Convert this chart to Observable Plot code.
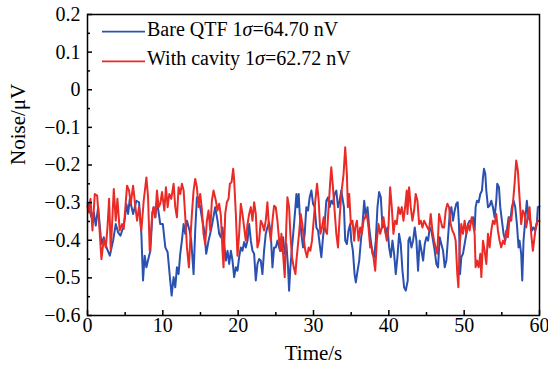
<!DOCTYPE html>
<html><head><meta charset="utf-8">
<style>body{margin:0;background:#fff}</style>
<script src="https://cdn.jsdelivr.net/npm/d3@7"></script>
<script src="https://cdn.jsdelivr.net/npm/@observablehq/plot@0.6"></script>
</head><body><div id="chart"></div>
<script>
// [time (s), noise (µV)]
const bareQTF = [
[0,-0.30],[0.22,-0.317],[0.53,-0.339],[0.84,-0.326],[1.10,-0.361],[1.41,-0.312],[1.85,-0.41],[2.16,-0.392],[2.52,-0.419],[2.96,-0.441],[3.40,-0.401],[3.75,-0.357],[4.06,-0.379],[4.37,-0.388],[4.73,-0.366],[4.95,-0.343],[5.17,-0.304],[5.39,-0.33],[5.61,-0.29],[6.05,-0.33],[6.49,-0.295],[6.84,-0.299],[7.15,-0.383],[7.37,-0.507],[7.59,-0.441],[7.82,-0.472],[8.13,-0.445],[8.35,-0.428],[8.61,-0.33],
[8.78,-0.312],[9.0,-0.339],[9.22,-0.295],[9.66,-0.357],[10.0,-0.357],[10.33,-0.419],[10.64,-0.432],[10.9,-0.49],[11.17,-0.547],[11.43,-0.498],[11.65,-0.525],[11.87,-0.472],[12.09,-0.49],[12.31,-0.436],[12.53,-0.401],[12.76,-0.357],[12.98,-0.383],[13.2,-0.348],[13.55,-0.374],[13.77,-0.401],[14.08,-0.49],[14.3,-0.374],[14.52,-0.286],[14.96,-0.312],[15.18,-0.339],[15.49,-0.374],[15.76,-0.436],[16.07,-0.401],[16.29,-0.383],[16.6,-0.352],[16.95,-0.312],
[17.26,-0.348],[17.48,-0.383],[17.7,-0.392],[17.92,-0.366],[18.37,-0.454],[18.59,-0.428],[18.81,-0.463],[19.03,-0.428],[19.25,-0.454],[19.47,-0.498],[19.69,-0.472],[19.91,-0.481],[20.13,-0.445],[20.35,-0.419],[20.57,-0.428],[20.79,-0.405],[21.01,-0.419],[21.24,-0.401],[21.46,-0.357],[21.68,-0.401],[21.9,-0.428],[22.12,-0.436],[22.34,-0.507],[22.56,-0.463],[22.78,-0.45],[23.0,-0.454],[23.22,-0.49],[23.44,-0.428],[23.66,-0.383],[23.88,-0.366],[24.1,-0.352],[24.33,-0.383],[24.55,-0.472],[24.77,-0.419],[24.99,-0.419],[25.21,-0.401],[25.56,-0.428],
[25.74,-0.428],[25.96,-0.392],[26.18,-0.436],[26.4,-0.41],[26.62,-0.472],[26.76,-0.534],[26.93,-0.472],[27.15,-0.419],[27.38,-0.366],[27.6,-0.312],[27.73,-0.277],[27.86,-0.312],[28.04,-0.277],[28.17,-0.33],[28.39,-0.383],[28.61,-0.419],[28.83,-0.383],[29.05,-0.312],[29.27,-0.321],[29.49,-0.286],[29.72,-0.268],[29.94,-0.303],[30.16,-0.312],[30.38,-0.366],[30.6,-0.374],[30.82,-0.41],[31.04,-0.445],[31.26,-0.392],[31.48,-0.357],[31.7,-0.295],[31.92,-0.286],[32.14,-0.312],[32.36,-0.295],[32.58,-0.303],[32.8,-0.277],[33.03,-0.268],[33.25,-0.312],[33.47,-0.295],[33.69,-0.268],[34.04,-0.312],
[34.21,-0.401],[34.43,-0.41],[34.65,-0.374],[34.87,-0.357],[35.01,-0.401],[35.23,-0.428],[35.45,-0.49],[35.62,-0.512],[35.85,-0.481],[36.07,-0.454],[36.29,-0.401],[36.51,-0.357],[36.73,-0.295],[36.95,-0.339],[37.17,-0.312],[37.39,-0.366],[37.61,-0.401],[37.83,-0.436],[38.05,-0.445],[38.27,-0.401],[38.49,-0.312],[38.71,-0.272],[38.94,-0.286],[39.16,-0.366],[39.38,-0.357],[39.6,-0.383],[39.82,-0.366],[40.04,-0.419],[40.26,-0.445],[40.48,-0.401],[40.7,-0.436],[40.92,-0.49],[41.14,-0.445],[41.36,-0.383],[41.58,-0.41],[41.81,-0.481],[42.03,-0.525],[42.25,-0.534],[42.51,-0.507],
[42.6,-0.401],[42.78,-0.392],[43.0,-0.419],[43.22,-0.401],[43.44,-0.366],[43.66,-0.401],[43.88,-0.481],[44.1,-0.401],[44.33,-0.428],[44.55,-0.454],[44.77,-0.41],[44.99,-0.392],[45.21,-0.401],[45.43,-0.366],[45.65,-0.374],[45.87,-0.401],[46.09,-0.428],[46.31,-0.463],[46.53,-0.472],[46.75,-0.392],[46.97,-0.41],[47.2,-0.428],[47.42,-0.472],[47.64,-0.454],[47.86,-0.392],[48.08,-0.33],[48.3,-0.312],[48.52,-0.348],[48.74,-0.321],[48.96,-0.303],[49.14,-0.299],[49.31,-0.357],[49.45,-0.49],[49.62,-0.445],[49.84,-0.436],[50.06,-0.41],[50.29,-0.383],[50.51,-0.357],[50.73,-0.348],[50.99,-0.348],
[51.17,-0.339],[51.39,-0.374],[51.52,-0.312],[51.7,-0.295],[51.92,-0.299],[52.14,-0.277],[52.36,-0.268],[52.5,-0.233],[52.63,-0.21],[52.81,-0.224],[52.94,-0.268],[53.16,-0.312],[53.38,-0.308],[53.6,-0.295],[53.82,-0.312],[54.04,-0.339],[54.26,-0.295],[54.39,-0.25],[54.62,-0.259],[54.79,-0.312],[55.01,-0.348],[55.23,-0.383],[55.45,-0.401],[55.67,-0.374],[55.9,-0.339],[56.12,-0.348],[56.34,-0.312],[56.56,-0.295],[56.78,-0.312],[57.0,-0.357],[57.22,-0.419],[57.35,-0.401],[57.57,-0.436],[57.71,-0.507],[57.88,-0.401],[58.1,-0.348],[58.32,-0.295],[58.54,-0.339],[58.77,-0.348],[58.99,-0.374],[59.21,-0.366],[59.43,-0.374],[59.65,-0.357],[59.78,-0.312],[60,-0.31]
];
const withCavity = [
[0,-0.308],[0.09,-0.326],[0.40,-0.29],[0.66,-0.374],[0.97,-0.277],[1.28,-0.281],[1.55,-0.357],[1.85,-0.45],[2.16,-0.397],[2.43,-0.419],[2.65,-0.366],[2.87,-0.29],[3.09,-0.428],[3.49,-0.264],[3.75,-0.348],[3.97,-0.29],[4.28,-0.374],[4.59,-0.357],[4.81,-0.37],[5.03,-0.312],[5.25,-0.255],[5.52,-0.268],[5.74,-0.303],[6.05,-0.255],[6.36,-0.312],[6.58,-0.348],[6.84,-0.312],[7.15,-0.374],[7.46,-0.295],[7.82,-0.233],[8.04,-0.286],[8.26,-0.428],[8.48,-0.366],[8.61,-0.326],
[8.78,-0.312],[9.0,-0.339],[9.22,-0.268],[9.44,-0.312],[9.66,-0.303],[9.89,-0.272],[10.2,-0.321],[10.41,-0.259],[10.64,-0.312],[10.86,-0.277],[11.12,-0.29],[11.43,-0.25],[11.65,-0.312],[11.87,-0.339],[12.09,-0.259],[12.31,-0.277],[12.53,-0.25],[12.76,-0.268],[12.98,-0.339],[13.2,-0.419],[13.46,-0.472],[13.64,-0.401],[13.86,-0.33],[14.08,-0.268],[14.3,-0.237],[14.52,-0.259],[14.74,-0.312],[14.96,-0.277],[15.18,-0.317],[15.4,-0.383],[15.62,-0.41],[15.85,-0.348],[16.07,-0.321],[16.29,-0.374],[16.51,-0.295],[16.73,-0.268],
[17.04,-0.295],[17.26,-0.321],[17.48,-0.303],[17.7,-0.334],[17.92,-0.428],[18.06,-0.472],[18.28,-0.33],[18.5,-0.299],[18.72,-0.29],[18.9,-0.25],[19.12,-0.246],[19.34,-0.21],[19.47,-0.241],[19.69,-0.33],[19.91,-0.441],[20.13,-0.383],[20.35,-0.303],[20.57,-0.33],[20.79,-0.366],[21.01,-0.401],[21.24,-0.357],[21.46,-0.33],[21.68,-0.312],[21.9,-0.348],[22.12,-0.299],[22.34,-0.33],[22.56,-0.419],[22.78,-0.401],[23.0,-0.348],[23.22,-0.357],[23.44,-0.374],[23.66,-0.348],[23.88,-0.299],[24.1,-0.366],[24.33,-0.401],[24.55,-0.348],[24.77,-0.308],[24.99,-0.312],[25.21,-0.348],[25.56,-0.428],
[25.74,-0.383],[25.96,-0.436],[26.18,-0.498],[26.4,-0.357],[26.54,-0.286],[26.76,-0.312],[26.93,-0.383],[27.15,-0.445],[27.38,-0.472],[27.6,-0.49],[27.73,-0.454],[27.86,-0.428],[28.08,-0.383],[28.3,-0.33],[28.52,-0.357],[28.74,-0.401],[28.92,-0.428],[29.14,-0.445],[29.36,-0.419],[29.58,-0.428],[29.8,-0.401],[30.02,-0.348],[30.24,-0.295],[30.47,-0.25],[30.69,-0.295],[30.91,-0.383],[31.13,-0.366],[31.35,-0.339],[31.57,-0.374],[31.79,-0.383],[32.01,-0.312],[32.23,-0.241],[32.36,-0.206],[32.58,-0.259],[32.8,-0.321],[33.03,-0.383],[33.25,-0.419],[33.47,-0.339],[33.69,-0.277],
[33.99,-0.224],[34.21,-0.153],[34.43,-0.224],[34.56,-0.312],[34.74,-0.277],[34.96,-0.357],[35.18,-0.348],[35.4,-0.401],[35.54,-0.366],[35.76,-0.348],[35.98,-0.401],[36.2,-0.366],[36.42,-0.383],[36.64,-0.348],[36.86,-0.339],[37.08,-0.33],[37.3,-0.366],[37.52,-0.419],[37.74,-0.419],[37.96,-0.445],[38.19,-0.481],[38.41,-0.401],[38.63,-0.357],[38.85,-0.383],[39.07,-0.366],[39.29,-0.339],[39.51,-0.374],[39.73,-0.401],[39.95,-0.366],[40.17,-0.259],[40.39,-0.312],[40.61,-0.383],[40.83,-0.348],[41.05,-0.357],[41.28,-0.312],[41.5,-0.33],[41.72,-0.312],[41.94,-0.348],[42.16,-0.312],[42.38,-0.268],
[42.47,-0.33],[42.69,-0.259],[42.91,-0.312],[43.13,-0.348],[43.35,-0.321],[43.57,-0.277],[43.8,-0.295],[44.02,-0.357],[44.24,-0.348],[44.46,-0.366],[44.68,-0.348],[44.9,-0.357],[45.12,-0.366],[45.34,-0.374],[45.56,-0.33],[45.78,-0.374],[46.0,-0.401],[46.22,-0.419],[46.44,-0.436],[46.67,-0.33],[46.89,-0.348],[47.11,-0.366],[47.33,-0.366],[47.55,-0.321],[47.77,-0.303],[47.99,-0.312],[48.21,-0.357],[48.43,-0.374],[48.65,-0.383],[48.87,-0.401],[49.09,-0.49],[49.23,-0.525],[49.4,-0.419],[49.62,-0.357],[49.84,-0.383],[50.06,-0.348],[50.29,-0.383],[50.51,-0.357],[50.73,-0.374],[50.99,-0.339],
[51.17,-0.357],[51.39,-0.383],[51.52,-0.472],[51.7,-0.454],[51.92,-0.472],[52.14,-0.436],[52.28,-0.498],[52.5,-0.401],[52.72,-0.428],[52.94,-0.463],[53.16,-0.383],[53.38,-0.419],[53.6,-0.374],[53.82,-0.348],[54.04,-0.357],[54.26,-0.33],[54.48,-0.374],[54.7,-0.401],[54.92,-0.419],[55.15,-0.401],[55.37,-0.41],[55.59,-0.374],[55.81,-0.392],[56.03,-0.339],[56.25,-0.348],[56.47,-0.303],[56.69,-0.25],[56.91,-0.188],[57.13,-0.215],[57.35,-0.286],[57.57,-0.357],[57.79,-0.321],[58.01,-0.33],[58.23,-0.366],[58.45,-0.339],[58.68,-0.312],[58.9,-0.383],[59.12,-0.428],[59.34,-0.392],[59.56,-0.357],[59.78,-0.348],[60,-0.35]
];
const xMajor = [0, 10, 20, 30, 40, 50, 60];
const xMinor = [5, 15, 25, 35, 45, 55];
const yMajor = [-0.6, -0.5, -0.4, -0.3, -0.2, -0.1, 0, 0.1, 0.2];
const yLabels = ["\u22120.6", "\u22120.5", "\u22120.4", "\u22120.3", "\u22120.2", "\u22120.1", "0", "0.1", "0.2"];
const yMinor = [-0.55, -0.45, -0.35, -0.25, -0.15, -0.05, 0.05, 0.15];
const seriesNames = ["Bare QTF 1", "With cavity 1"];
const seriesSigma = ["=64.70 nV", "=62.72 nV"];
const colors = ["#2a50b0", "#ea2a26"];

const W = 548, H = 370, mL = 87, mR = 9, mT = 14, mB = 55;
const pw = W - mL - mR, ph = H - mT - mB;

function legend(index, scales, values, dims) {
  const g = d3.create("svg:g").attr("font-size", 20).attr("text-anchor", "start");
  seriesNames.forEach((name, i) => {
    const y = dims.marginTop + 17.6 + i * 29.8;
    const x0 = dims.marginLeft + 15;
    g.append("line").attr("x1", x0).attr("x2", x0 + 43).attr("y1", y).attr("y2", y)
      .attr("stroke", colors[i]).attr("stroke-width", 1.6);
    const t = g.append("text").attr("x", x0 + 45).attr("y", y + 4)
      .attr("fill", "black").attr("text-anchor", "start");
    t.append("tspan").text(name);
    t.append("tspan").attr("font-style", "italic").text("\u03c3");
    t.append("tspan").text(seriesSigma[i]);
  });
  return g.node();
}

const chart = Plot.plot({
  width: W, height: H,
  marginLeft: mL, marginRight: mR, marginTop: mT, marginBottom: mB,
  style: {fontFamily: "'Liberation Serif', 'Times New Roman', serif", fontSize: "20px", background: "white", color: "black"},
  x: {domain: [0, 60]},
  y: {domain: [-0.6, 0.2]},
  marks: [
    Plot.line(bareQTF, {x: d => d[0], y: d => d[1], stroke: colors[0], strokeWidth: 2, curve: "linear"}),
    Plot.line(withCavity, {x: d => d[0], y: d => d[1], stroke: colors[1], strokeWidth: 2, curve: "linear"}),
    Plot.frame({stroke: "black", strokeWidth: 1.5}),
    Plot.tickX(xMajor, {x: d => d, insetTop: ph - 5, stroke: "black", strokeWidth: 1.5}),
    Plot.tickX(xMinor, {x: d => d, insetTop: ph - 3, stroke: "black", strokeWidth: 1.5}),
    Plot.tickY(yMajor, {y: d => d, insetRight: pw - 5, stroke: "black", strokeWidth: 1.5}),
    Plot.tickY(yMinor, {y: d => d, insetRight: pw - 3, stroke: "black", strokeWidth: 1.5}),
    Plot.axisX(xMajor, {tickSize: 0, tickPadding: 2, label: null, tickFormat: d => String(d), fontSize: 20}),
    Plot.axisY(yMajor, {tickSize: 0, tickPadding: 7, label: null, tickFormat: d => yLabels[yMajor.indexOf(d)], fontSize: 20}),
    Plot.text(["Time/s"], {frameAnchor: "bottom", dy: 44, fontSize: 21, text: d => d}),
    Plot.text(["Noise/\u03bcV"], {frameAnchor: "left", dx: -69, rotate: -90, fontSize: 21, text: d => d}),
    legend
  ]
});
document.getElementById("chart").appendChild(chart);
</script>
</body></html>
